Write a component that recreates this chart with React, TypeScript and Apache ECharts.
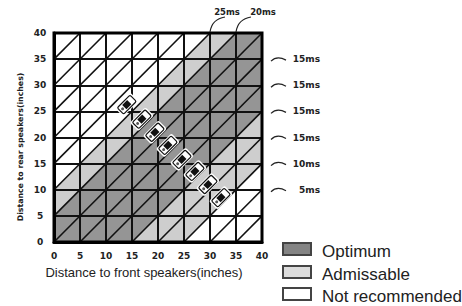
import React, { useEffect, useRef } from "react";
import * as echarts from "echarts";

// ---- data ----
const axisTicks = [0, 5, 10, 15, 20, 25, 30, 35, 40];
// bands of (rear - front) distance
const bandLow = [-40, -25, -15, 5, 10];
const bandHigh = [-25, -15, 5, 10, 40];
const bandClass = ["Not recommended", "Admissable", "Optimum", "Admissable", "Not recommended"];
const classNames = ["Optimum", "Admissable", "Not recommended"];
const classColors = ["#959595", "#cecece", "#ffffff"];
const legendColors = ["#848484", "#dcdcdc", "#ffffff"];
const diagonalOffsets = [-35, -30, -25, -20, -15, -10, -5, 0, 5, 10, 15, 20, 25, 30, 35];
const speakerFront = [14.0, 16.9, 19.4, 21.9, 24.6, 27.1, 29.6, 32.1];
const speakerRear = [26.3, 23.5, 21.0, 18.5, 15.8, 13.5, 11.0, 8.5];
const topLabels = ["25ms", "20ms"];
const topLabelFront = [30, 35];
const rightLabels = ["15ms", "15ms", "15ms", "15ms", "10ms", "5ms"];
const rightLabelRear = [35, 30, 25, 20, 15, 10];

const AX_MIN = axisTicks[0];
const AX_MAX = axisTicks[axisTicks.length - 1];

// pixel offsets of the top annotation texts from their leader start
const TOP_TEXT_DX = [17, 27];

type P = [number, number];
function clip(poly: P[], f: (p: P) => number): P[] {
  const out: P[] = [];
  for (let i = 0; i < poly.length; i++) {
    const a = poly[i];
    const b = poly[(i + 1) % poly.length];
    const fa = f(a);
    const fb = f(b);
    if (fa >= 0) out.push(a);
    if (fa >= 0 !== fb >= 0) {
      const t = fa / (fa - fb);
      out.push([a[0] + t * (b[0] - a[0]), a[1] + t * (b[1] - a[1])]);
    }
  }
  return out;
}

const square: P[] = [
  [AX_MIN, AX_MIN],
  [AX_MAX, AX_MIN],
  [AX_MAX, AX_MAX],
  [AX_MIN, AX_MAX],
];
const bandPolys: P[][] = bandLow.map((lo, i) => {
  const hi = bandHigh[i];
  let p = clip(square, (q) => q[1] - q[0] - lo);
  p = clip(p, (q) => hi - (q[1] - q[0]));
  return p;
});

const smallFont = "DejaVu Sans";
const mainFont = "Liberation Sans, Arial, sans-serif";

export default function App() {
  const ref = useRef<HTMLDivElement>(null);
  useEffect(() => {
    if (!ref.current) return;
    const chart = echarts.init(ref.current, undefined, { renderer: "svg" });

    const bandSeries = classNames.map((name, ci) => ({
      name,
      type: "custom",
      z: 1,
      silent: true,
      data: bandClass
        .map((c, i) => (c === name ? [i] : null))
        .filter((d) => d !== null),
      renderItem: (params: any, api: any) => {
        const idx = api.value(0);
        const pts = bandPolys[idx].map((p) => api.coord(p));
        return {
          type: "polygon",
          shape: { points: pts },
          style: { fill: classColors[ci], stroke: null },
        };
      },
    }));

    const diagSeries = {
      type: "custom",
      z: 4,
      silent: true,
      data: diagonalOffsets.map((d) => [d]),
      renderItem: (params: any, api: any) => {
        const d = api.value(0);
        const p1 = api.coord([Math.max(AX_MIN, AX_MIN - d), Math.max(AX_MIN, AX_MIN + d)]);
        const p2 = api.coord([Math.min(AX_MAX, AX_MAX - d), Math.min(AX_MAX, AX_MAX + d)]);
        return {
          type: "line",
          shape: { x1: p1[0], y1: p1[1], x2: p2[0], y2: p2[1] },
          style: { stroke: "#111", lineWidth: 1.6 },
        };
      },
    };

    const speakerSeries = {
      type: "custom",
      z: 6,
      silent: true,
      data: speakerFront.map((x, i) => [x, speakerRear[i]]),
      renderItem: (params: any, api: any) => {
        const c = api.coord([api.value(0), api.value(1)]);
        return {
          type: "group",
          x: c[0],
          y: c[1],
          rotation: Math.PI / 4,
          children: [
            { type: "rect", shape: { x: -11, y: -6, width: 22, height: 12, r: 2 }, style: { fill: "#fff" } },
            { type: "rect", shape: { x: -9, y: -4.5, width: 18, height: 9, r: 1.5 }, style: { fill: "#fff", stroke: "#111", lineWidth: 1.2 } },
            { type: "rect", shape: { x: -3.5, y: -3, width: 7, height: 6 }, style: { fill: "#111" } },
            { type: "circle", shape: { cx: -6, cy: 0, r: 1.5 }, style: { fill: "#555" } },
          ],
        };
      },
    };

    const rightAnnot = {
      type: "custom",
      z: 6,
      silent: true,
      clip: false,
      data: rightLabelRear.map((y, i) => [AX_MAX, y, i]),
      renderItem: (params: any, api: any) => {
        const c = api.coord([api.value(0), api.value(1)]);
        const i = api.value(2);
        return {
          type: "group",
          children: [
            {
              type: "bezierCurve",
              shape: { x1: c[0] + 9, y1: c[1] + 2, cpx1: c[0] + 15, cpy1: c[1] - 4, x2: c[0] + 24, y2: c[1] + 1 },
              style: { stroke: "#222", lineWidth: 1.2, fill: null },
            },
            {
              type: "text",
              x: c[0] + 58,
              y: c[1],
              style: {
                text: rightLabels[i],
                align: "right",
                verticalAlign: "middle",
                fontSize: 9,
                fontWeight: "bold",
                fontFamily: smallFont,
                fill: "#222",
              },
            },
          ],
        };
      },
    };

    const topAnnot = {
      type: "custom",
      z: 6,
      silent: true,
      clip: false,
      data: topLabelFront.map((x, i) => [x, AX_MAX, i]),
      renderItem: (params: any, api: any) => {
        const c = api.coord([api.value(0), api.value(1)]);
        const i = api.value(2);
        return {
          type: "group",
          children: [
            {
              type: "bezierCurve",
              shape: { x1: c[0], y1: c[1] - 1, cpx1: c[0] + 2, cpy1: c[1] - 14, x2: c[0] + 15, y2: c[1] - 16 },
              style: { stroke: "#222", lineWidth: 1.2, fill: null },
            },
            {
              type: "text",
              x: c[0] + TOP_TEXT_DX[i],
              y: c[1] - 21,
              style: {
                text: topLabels[i],
                align: "center",
                verticalAlign: "middle",
                fontSize: 8.5,
                fontWeight: "bold",
                fontFamily: smallFont,
                fill: "#222",
              },
            },
          ],
        };
      },
    };

    const axisCommon = {
      type: "value",
      min: AX_MIN,
      max: AX_MAX,
      interval: 5,
      z: 3,
      axisLine: { show: true, lineStyle: { color: "#000", width: 3 } },
      axisTick: { show: false },
      splitLine: { show: true, lineStyle: { color: "#111", width: 2 } },
    };

    const legendGraphics: any[] = [];
    const legendY = [249, 272, 294];
    classNames.forEach((name, i) => {
      legendGraphics.push({
        type: "rect",
        shape: { x: 283, y: legendY[i] - 6, width: 28, height: 12 },
        style: { fill: legendColors[i], stroke: "#444", lineWidth: 2 },
      });
      legendGraphics.push({
        type: "text",
        x: 322,
        y: legendY[i] + 2,
        style: {
          text: name,
          fontSize: 17,
          fontFamily: mainFont,
          fill: "#222",
          verticalAlign: "middle",
        },
      });
    });

    chart.setOption({
      animation: false,
      backgroundColor: "#fff",
      grid: {
        left: 54,
        top: 33,
        width: 208,
        height: 209,
        show: true,
        z: 5,
        borderColor: "#000",
        borderWidth: 3,
        backgroundColor: "transparent",
      },
      xAxis: {
        ...axisCommon,
        axisLabel: {
          fontSize: 9,
          fontWeight: "bold",
          fontFamily: smallFont,
          color: "#222",
          margin: 9,
        },
      },
      yAxis: {
        ...axisCommon,
        axisLabel: {
          fontSize: 9,
          fontWeight: "bold",
          fontFamily: smallFont,
          color: "#222",
          align: "center",
          margin: 14,
        },
      },
      series: [...bandSeries, diagSeries, speakerSeries, rightAnnot, topAnnot],
      graphic: [
        {
          type: "text",
          x: 144,
          y: 272,
          style: {
            text: "Distance to front speakers(inches)",
            fontSize: 13,
            fontFamily: mainFont,
            fill: "#222",
            align: "center",
            verticalAlign: "middle",
          },
        },
        {
          type: "text",
          x: 20,
          y: 147,
          rotation: Math.PI / 2,
          style: {
            text: "Distance to rear speakers(inches)",
            fontSize: 7.8,
            fontWeight: "bold",
            fontFamily: smallFont,
            fill: "#222",
            align: "center",
            verticalAlign: "middle",
          },
        },
        ...legendGraphics,
      ],
    });
    return () => chart.dispose();
  }, []);
  return (
    <div
      ref={ref}
      style={{ position: "absolute", left: 0, top: 0, width: 462, height: 306, background: "#fff" }}
    />
  );
}
